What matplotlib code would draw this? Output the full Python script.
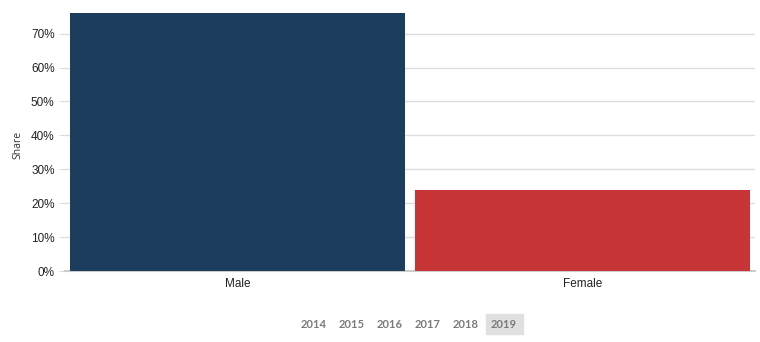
import matplotlib
matplotlib.use("Agg")
from matplotlib import pyplot as plt
from matplotlib.ticker import FuncFormatter
from matplotlib.patches import Rectangle

categories = ["Male", "Female"]
shares = [76.1, 23.9]
colors = ["#1c3d5e", "#c83537"]
years = ["2014", "2015", "2016", "2017", "2018", "2019"]
active_year = "2019"

plt.rcParams["font.family"] = ["Liberation Sans", "DejaVu Sans"]

fig = plt.figure(figsize=(7.6, 3.42), dpi=100)
ax = fig.add_axes([65/760, 1-271/342, 690/760, 258/342])

x = range(len(categories))
ax.bar(x, shares, width=0.971, color=colors, zorder=3)
ax.set_xlim(-0.5, 1.5)
ax.set_ylim(0, 76.1)
ax.set_yticks(range(0, 80, 10))
ax.yaxis.set_major_formatter(FuncFormatter(lambda v, p: f"{v:.0f}%"))
ax.set_xticks(list(x))
ax.set_xticklabels(categories)

ax.grid(axis="y", color="#dddddd", linewidth=1, zorder=0)
for s in ["top", "right", "left"]:
    ax.spines[s].set_visible(False)
ax.spines["bottom"].set_color("#cccccc")
ax.spines["bottom"].set_linewidth(1.5)
ax.tick_params(axis="y", length=4, color="#dddddd", labelsize=8.5, labelcolor="#222222", pad=3.5)
ax.tick_params(axis="x", length=0, labelsize=8.5, labelcolor="#222222", pad=5)
fig.text(18/760, 1 - 145/342, "Share", rotation=90, ha="center", va="center",
         fontsize=7.5, color="#333333", family="Open Sans")

# year selector
x0, dx = 314, 38
for i, yr in enumerate(years):
    cx = x0 + i * dx
    if yr == active_year:
        fig.patches.append(Rectangle(((cx - 18) / 760, 1 - 334/342), 37/760, 20/342,
                                     transform=fig.transFigure, color="#e0e0e0", zorder=0))
    fig.text(cx / 760, 1 - 324/342, yr, ha="center", va="center", fontsize=8,
             fontweight="bold", color="#7a7a7a", family="Lato")

fig.savefig("out.png", dpi=100)
